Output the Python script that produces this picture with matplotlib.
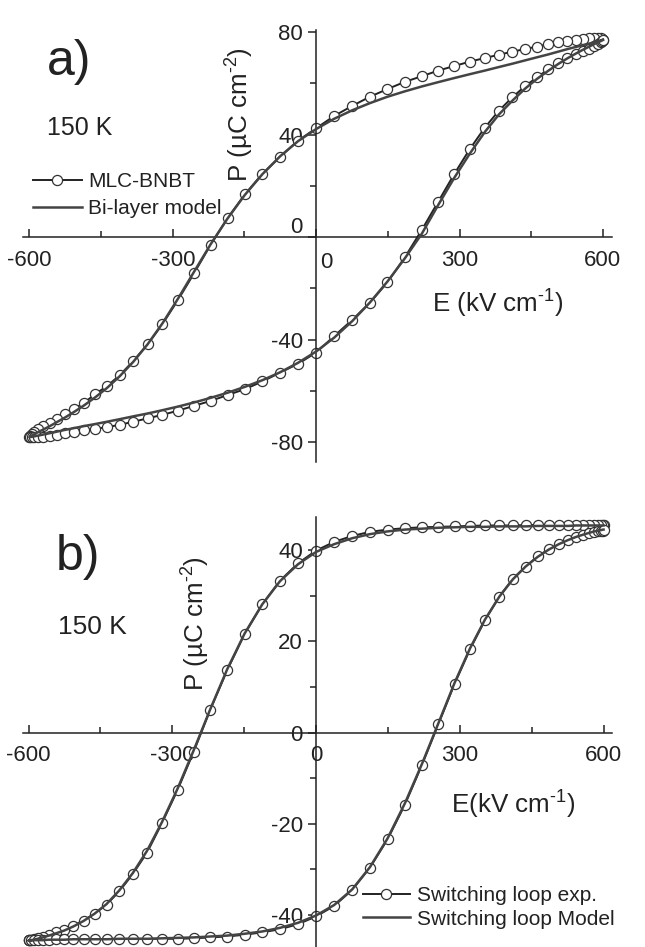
import matplotlib
matplotlib.use("Agg")
import matplotlib.pyplot as plt
from matplotlib.ticker import MultipleLocator, FuncFormatter

plt.rcParams['font.family'] = ['Liberation Sans', 'DejaVu Sans']
plt.rcParams['mathtext.fontset'] = 'custom'
plt.rcParams['mathtext.rm'] = 'Liberation Sans'
plt.rcParams['mathtext.it'] = 'Liberation Sans:italic'
plt.rcParams['axes.unicode_minus'] = False

# field values (kV/cm), one full cycle: 600 -> -600 -> 600
E_kv = [600.0, 598.8, 595.3, 589.4, 581.1, 570.6, 557.9, 542.9, 525.8, 506.6,
        485.4, 462.3, 437.4, 410.7, 382.5, 352.7, 321.5, 289.1, 255.5, 220.9,
        185.4, 149.2, 112.4, 75.2, 37.7, 0.0, -37.7, -75.2, -112.4, -149.2,
        -185.4, -220.9, -255.5, -289.1, -321.5, -352.7, -382.5, -410.7, -437.4, -462.3,
        -485.4, -506.6, -525.8, -542.9, -557.9, -570.6, -581.1, -589.4, -595.3, -598.8,
        -600.0,
        -598.8, -595.3, -589.4, -581.1, -570.6, -557.9, -542.9, -525.8, -506.6, -485.4,
        -462.3, -437.4, -410.7, -382.5, -352.7, -321.5, -289.1, -255.5, -220.9, -185.4,
        -149.2, -112.4, -75.2, -37.7, 0.0, 37.7, 75.2, 112.4, 149.2, 185.4,
        220.9, 255.5, 289.1, 321.5, 352.7, 382.5, 410.7, 437.4, 462.3, 485.4,
        506.6, 525.8, 542.9, 557.9, 570.6, 581.1, 589.4, 595.3, 598.8, 600.0]

# panel a) MLC-BNBT measured loop
Pa_exp = [77.0, 77.4, 77.7, 77.8, 77.7, 77.6, 77.4, 77.1, 76.6, 76.0,
          75.3, 74.4, 73.4, 72.4, 71.2, 69.9, 68.5, 66.8, 65.0, 62.8,
          60.6, 57.8, 54.8, 51.2, 47.3, 42.5, 37.7, 31.4, 24.7, 16.7,
          7.4, -3.0, -14.1, -24.5, -33.9, -41.8, -48.3, -53.8, -58.1, -61.2,
          -64.6, -67.0, -69.0, -71.1, -72.4, -73.7, -74.7, -75.9, -76.9, -77.5,
          -77.8,
          -78.0, -78.1, -78.1, -78.0, -77.8, -77.4, -77.0, -76.5, -76.0, -75.4,
          -74.8, -74.1, -73.2, -72.0, -70.7, -69.3, -67.7, -65.8, -63.9, -61.6,
          -59.3, -56.3, -52.8, -49.4, -45.0, -38.6, -32.3, -25.6, -17.6, -7.9,
          2.8, 13.9, 24.7, 34.4, 42.7, 49.4, 54.6, 59.0, 62.4, 65.5,
          67.9, 69.8, 71.4, 72.6, 73.6, 74.6, 75.5, 76.1, 76.6, 77.0]

# panel a) bi-layer model
Pa_model = [77.0, 77.0, 76.8, 76.4, 76.0, 75.5, 74.9, 74.2, 73.4, 72.4,
            71.3, 70.2, 69.0, 67.7, 66.4, 65.0, 63.6, 62.1, 60.5, 58.8,
            56.9, 54.8, 52.3, 49.5, 46.2, 42.2, 37.5, 31.6, 24.6, 16.5,
            7.3, -2.8, -13.5, -24.0, -33.6, -41.8, -48.6, -54.2, -58.8, -62.5,
            -65.6, -68.2, -70.4, -72.2, -73.8, -75.0, -76.0, -76.8, -77.4, -77.8,
            -78.0,
            -78.0, -77.9, -77.7, -77.4, -77.0, -76.5, -75.9, -75.2, -74.5, -73.7,
            -72.9, -72.0, -71.0, -69.9, -68.8, -67.5, -66.1, -64.5, -62.7, -60.7,
            -58.4, -55.8, -52.7, -49.0, -44.6, -39.2, -32.8, -25.5, -17.3, -8.3,
            1.3, 12.6, 23.2, 32.6, 41.0, 47.9, 53.3, 58.0, 61.8, 64.9,
            67.6, 69.8, 71.6, 73.1, 74.3, 75.3, 76.0, 76.5, 76.9, 77.0]

# panel b) switching loop, experiment
Pb_exp = [45.6, 45.6, 45.6, 45.6, 45.6, 45.6, 45.6, 45.6, 45.6, 45.6,
          45.6, 45.5, 45.5, 45.4, 45.4, 45.4, 45.3, 45.2, 45.1, 45.0,
          44.8, 44.5, 44.0, 43.1, 41.8, 39.9, 37.1, 33.3, 28.1, 21.6,
          13.7, 5.0, -4.2, -12.6, -19.8, -26.3, -31.0, -34.8, -37.7, -39.7,
          -41.2, -42.3, -43.2, -43.8, -44.3, -44.7, -45.1, -45.3, -45.4, -45.5,
          -45.5,
          -45.5, -45.5, -45.5, -45.4, -45.4, -45.4, -45.3, -45.3, -45.3, -45.3,
          -45.3, -45.2, -45.2, -45.2, -45.2, -45.2, -45.2, -45.1, -44.9, -44.7,
          -44.3, -43.8, -43.1, -42.0, -40.3, -38.0, -34.5, -29.6, -23.4, -15.8,
          -7.1, 1.9, 10.7, 18.3, 24.7, 29.8, 33.7, 36.4, 38.6, 40.2,
          41.3, 42.2, 42.9, 43.4, 43.7, 43.9, 44.1, 44.2, 44.2, 44.3]

# panel b) switching loop, model
Pb_model = [45.4, 45.4, 45.4, 45.4, 45.4, 45.4, 45.4, 45.4, 45.3, 45.3,
            45.3, 45.3, 45.2, 45.2, 45.2, 45.1, 45.1, 45.0, 44.9, 44.7,
            44.5, 44.1, 43.5, 42.6, 41.3, 39.6, 36.9, 33.2, 28.1, 21.7,
            13.9, 5.1, -3.9, -12.3, -19.6, -25.9, -30.8, -34.6, -37.6, -39.7,
            -41.3, -42.5, -43.4, -44.0, -44.5, -44.9, -45.2, -45.4, -45.5, -45.6,
            -45.6,
            -45.6, -45.6, -45.5, -45.5, -45.5, -45.4, -45.4, -45.4, -45.3, -45.3,
            -45.3, -45.3, -45.2, -45.2, -45.2, -45.1, -45.0, -44.9, -44.7, -44.5,
            -44.1, -43.6, -42.8, -41.7, -40.1, -37.8, -34.4, -29.5, -23.2, -15.5,
            -6.9, 2.1, 10.9, 18.5, 24.8, 29.8, 33.6, 36.4, 38.5, 40.1,
            41.3, 42.2, 42.9, 43.4, 43.8, 44.1, 44.3, 44.4, 44.5, 44.5]

ink = '#222222'
W, H = 645, 947
tick_fs = 16

fig = plt.figure(figsize=(W / 100, H / 100), dpi=100)
axa = fig.add_axes([22.7 / W, 1 - 462.2 / H, (612 - 22.7) / W, (462.2 - 29.6) / H])
axb = fig.add_axes([22.7 / W, 0.0, (611.7 - 22.7) / W, (947 - 516.8) / H])


def style(ax, xlim, ylim, ymaj, ymin, hide_zero=False):
    ax.set_xlim(*xlim)
    ax.set_ylim(*ylim)
    ax.patch.set_visible(False)
    for s in ['top', 'right']:
        ax.spines[s].set_visible(False)
    for s in ['left', 'bottom']:
        ax.spines[s].set_position(('data', 0))
        ax.spines[s].set_linewidth(1.1)
        ax.spines[s].set_color(ink)
    ax.xaxis.set_major_locator(MultipleLocator(300))
    ax.xaxis.set_minor_locator(MultipleLocator(150))
    ax.yaxis.set_major_locator(MultipleLocator(ymaj))
    ax.yaxis.set_minor_locator(MultipleLocator(ymin))
    if hide_zero:
        f = FuncFormatter(lambda v, p: '' if abs(v) < 1e-9 else '%g' % v)
    else:
        f = FuncFormatter(lambda v, p: '%g' % v)
    ax.xaxis.set_major_formatter(f)
    ax.yaxis.set_major_formatter(f)
    ax.tick_params(axis='x', which='both', direction='in', length=5.5, width=1.1,
                   pad=9, labelsize=tick_fs, colors=ink)
    ax.tick_params(axis='y', which='both', direction='out', length=5.5, width=1.1,
                   pad=4, labelsize=tick_fs, colors=ink)
    ax.tick_params(which='minor', length=4.5)


style(axa, (-614, 619), (-87.8, 81), 40, 20, hide_zero=True)
style(axb, (-612.3, 617), (-47, 47.3), 20, 10)

# zero labels of panel a are moved off the axes
axa.annotate('0', xy=(0, 0), xytext=(7.5, -18.5), textcoords='offset points',
             ha='center', va='center', fontsize=tick_fs, color=ink)
axa.annotate('0', xy=(0, 0), xytext=(-10, 7), textcoords='offset points',
             ha='right', va='center', fontsize=tick_fs, color=ink)

mk = dict(marker='o', ms=7.3, mfc='white', mec='#333333', mew=0.9)

axa.plot(E_kv, Pa_exp, color=ink, lw=1.4, label='MLC-BNBT', zorder=2, **mk)
axa.plot(E_kv, Pa_model, color='#444444', lw=1.8, label='Bi-layer model', zorder=3)
axb.plot(E_kv, Pb_exp, color=ink, lw=1.4, label='Switching loop exp.', zorder=2, **mk)
axb.plot(E_kv, Pb_model, color='#444444', lw=1.8, label='Switching loop Model', zorder=3)

axa.legend(loc='upper left', bbox_to_anchor=(33 / W, 1 - 172 / H),
           bbox_transform=fig.transFigure, frameon=False, fontsize=15,
           borderpad=0, borderaxespad=0, handlelength=2.35, handletextpad=0.3,
           labelspacing=0.4, numpoints=1, labelcolor=ink)
axb.legend(loc='upper left', bbox_to_anchor=(363 / W, 1 - 886 / H),
           bbox_transform=fig.transFigure, frameon=False, fontsize=15,
           borderpad=0, borderaxespad=0, handlelength=2.25, handletextpad=0.35,
           labelspacing=0.22, numpoints=1, labelcolor=ink)


def ftext(x, y, s, **kw):
    fig.text(x / W, 1 - y / H, s, ha='center', va='center', color=ink, **kw)


ftext(69, 62, 'a)', fontsize=36)
ftext(80, 128, '150 K', fontsize=18)
ftext(240, 115, 'P (µC cm$^{\\text{-2}}$)', fontsize=18.7, rotation=90)
ftext(498, 304, 'E (kV cm$^{\\text{-1}}$)', fontsize=18.7)

ftext(78, 557, 'b)', fontsize=36)
ftext(92, 627, '150 K', fontsize=19)
ftext(196, 624, 'P (µC cm$^{\\text{-2}}$)', fontsize=18.7, rotation=90)
ftext(513, 805, 'E(kV cm$^{\\text{-1}}$)', fontsize=18.7)

fig.savefig('out.png', dpi=100)
